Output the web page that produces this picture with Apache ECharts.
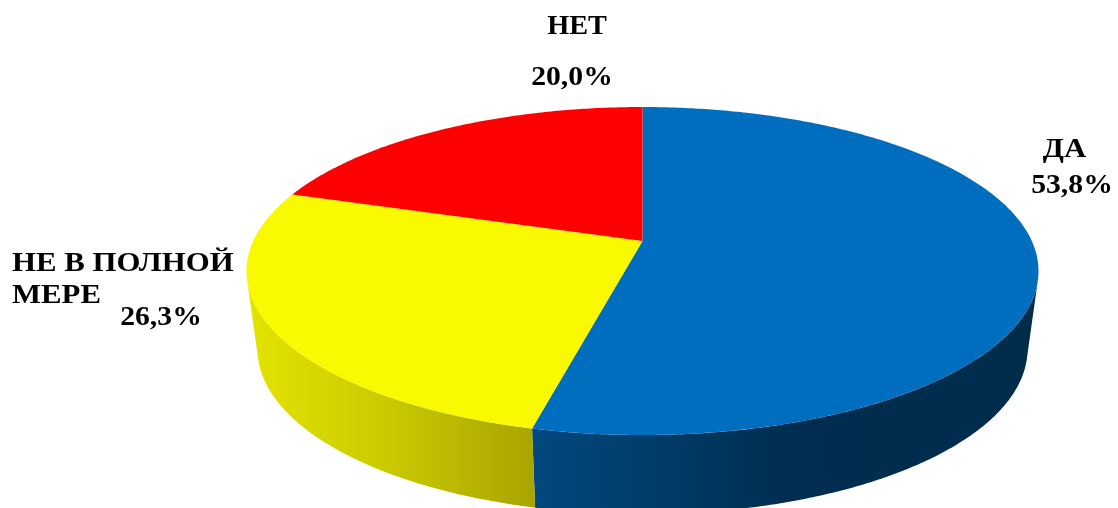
<!DOCTYPE html>
<html>
<head>
<meta charset="utf-8">
<style>html,body{margin:0;padding:0;background:#fff}#c{width:1118px;height:508px}</style>
<script src="https://cdn.jsdelivr.net/npm/echarts@6/dist/echarts.min.js"></script>
</head>
<body>
<div id="c"></div>
<script>
// Data
const categories = ['ДА', 'НЕ В ПОЛНОЙ\nМЕРЕ', 'НЕТ'];
const shares = [53.8, 26.3, 20.0];
const shareLabels = ['53,8%', '26,3%', '20,0%'];

// Styling and layout
const topColors = ['#006EBF', '#F9FA00', '#FF0000'];
const wallStops = [
  [[0, '#00497F'], [0.5, '#002E50'], [1, '#002C4C']],
  [[0, '#E4E400'], [0.5, '#C9C900'], [1, '#A9A500']],
  [[0, '#A00000'], [1, '#700000']]
];
const wallSpans = [[533, 1038], [247, 533], [290, 642]];
const nameAnchors = [[1064.5, 150, 'center', 1.1], [12, 280, 'left', 1.1], [577, 27, 'center', 1.01]];
const shareAnchors = [[1072, 186, 'center', 1.06], [161, 318, 'center', 1.06], [572, 78, 'center', 1.06]];
const FONT = 'bold 28px "Liberation Serif", serif';

// Perspective view of a disc
const K = 0.183;
const topPlane = { cx: 642.5, cy: 241, c: 389.3, a: 158.5 };
const bottomPlane = { cx: 642.5, cy: 319, c: 378.5, a: 159.5 };
const total = shares.reduce((s, v) => s + v, 0);
function angleRange(i) {
  let before = 0;
  for (let j = 0; j < i; j++) before += shares[j];
  return [before / total * 2 * Math.PI, (before + shares[i]) / total * 2 * Math.PI];
}
function project(plane, t) {
  const X = Math.sin(t), Y = -Math.cos(t), d = 1 - K * Y;
  return [plane.cx + plane.c * X / d, plane.cy + plane.a * Y / d];
}
function rim(plane, from, to) {
  const n = Math.max(8, Math.ceil((to - from) / 0.01));
  const out = [];
  for (let i = 0; i <= n; i++) out.push(project(plane, from + (to - from) * i / n));
  return out;
}
// A wall strip faces the viewer when the step from the top rim down to the
// bottom rim lies on the outer side of the rim's direction of travel.
function facesViewer(t) {
  const e = 1e-3;
  const p = project(topPlane, t), q = project(topPlane, t + e), b = project(bottomPlane, t);
  return (q[0] - p[0]) * (b[1] - p[1]) - (q[1] - p[1]) * (b[0] - p[0]) < 0;
}
function visibleRange(a, b) {
  const step = (b - a) / 2000;
  let lo = null, hi = null;
  for (let i = 0; i <= 2000; i++) {
    const t = a + step * i;
    if (facesViewer(t)) { if (lo === null) lo = t; hi = t; }
  }
  return lo === null ? null : [lo, hi];
}

const seriesData = shares.map((v, i) => ({ value: v, name: categories[i] }));

function renderWall(params) {
  const i = params.dataIndex;
  const [a, b] = angleRange(i);
  const vis = visibleRange(a, b);
  if (!vis) return null;
  const pts = rim(topPlane, vis[0], vis[1]).concat(rim(bottomPlane, vis[0], vis[1]).reverse());
  const span = wallSpans[i];
  return {
    type: 'polygon',
    shape: { points: pts },
    style: {
      fill: new echarts.graphic.LinearGradient(span[0], 0, span[1], 0,
        wallStops[i].map(s => ({ offset: s[0], color: s[1] })), true)
    }
  };
}
function renderTop(params) {
  const i = params.dataIndex;
  const [a, b] = angleRange(i);
  const pts = [[topPlane.cx, topPlane.cy]].concat(rim(topPlane, a, b));
  return { type: 'polygon', shape: { points: pts }, style: { fill: topColors[i] } };
}
function labelEl(text, anchor) {
  return {
    type: 'text',
    x: anchor[0], y: anchor[1], scaleX: anchor[3],
    style: {
      x: 0, y: 0, text: text, font: FONT, fill: '#000',
      align: anchor[2], verticalAlign: 'middle', lineHeight: 32
    }
  };
}
function renderLabel(params) {
  const i = params.dataIndex;
  return {
    type: 'group',
    children: [labelEl(categories[i], nameAnchors[i]), labelEl(shareLabels[i], shareAnchors[i])]
  };
}

const chart = echarts.init(document.getElementById('c'), null, { renderer: 'canvas' });
chart.setOption({
  animation: false,
  backgroundColor: '#fff',
  series: [
    { type: 'custom', coordinateSystem: 'none', name: 'wall', z: 1, silent: true, renderItem: renderWall, data: seriesData },
    { type: 'custom', coordinateSystem: 'none', name: 'top', z: 2, silent: true, renderItem: renderTop, data: seriesData },
    { type: 'custom', coordinateSystem: 'none', name: 'labels', z: 3, silent: true, renderItem: renderLabel, data: seriesData }
  ]
});
</script>
</body>
</html>
